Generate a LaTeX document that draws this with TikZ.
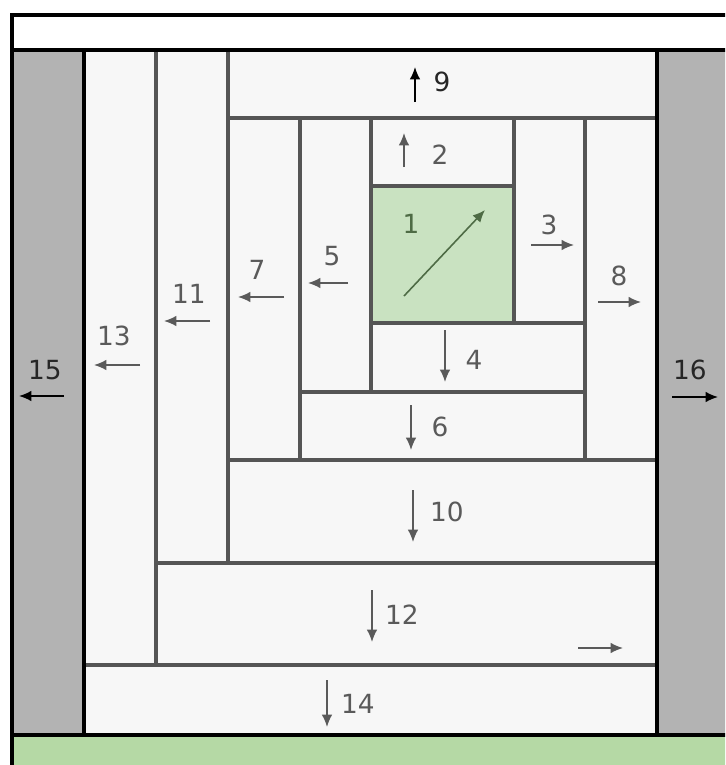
\documentclass[tikz,border=0pt]{standalone}
\usepackage{fontspec}
\setmainfont{DejaVu Sans}
\usetikzlibrary{arrows.meta}
\definecolor{strip}{HTML}{F7F7F7}
\definecolor{edge}{HTML}{555555}
\definecolor{side}{HTML}{B3B3B3}
\definecolor{centre}{HTML}{C9E2C1}
\definecolor{base}{HTML}{B5D9A5}
\definecolor{txt}{HTML}{5A5A5A}
\definecolor{leaf}{HTML}{4E6B45}

\begin{document}
\begin{tikzpicture}[x=0.02cm,y=-0.02cm,
  piece/.style={fill=strip,draw=edge,line width=2.1pt},
  seam/.style={draw=black,line width=2.6pt},
  num/.style={text=txt,font=\fontsize{15}{15}\selectfont,inner sep=0pt},
  dir/.style={-{Latex[length=7pt,width=6pt]},draw=txt,line width=0.9pt}]
\useasboundingbox (0,0) rectangle (725,765);
\clip (0,0) rectangle (725,765);

% outer parts
\fill[white] (12,15) rectangle (740,50);
\fill[side]  (12,50) rectangle (84,735);
\fill[side]  (657,50) rectangle (740,735);
\fill[base]  (12,735) rectangle (740,780);

% strips, from the outside in
\draw[piece] (84,665)  rectangle (657,735);  % 14
\draw[piece] (84,50)   rectangle (156,665);  % 13
\draw[piece] (156,563) rectangle (657,665);  % 12
\draw[piece] (156,50)  rectangle (228,563);  % 11
\draw[piece] (228,460) rectangle (657,563);  % 10
\draw[piece] (228,50)  rectangle (657,118);  % 9
\draw[piece] (585,118) rectangle (657,460);  % 8
\draw[piece] (228,118) rectangle (300,460);  % 7
\draw[piece] (300,392) rectangle (585,460);  % 6
\draw[piece] (300,118) rectangle (371,392);  % 5
\draw[piece] (371,323) rectangle (585,392);  % 4
\draw[piece] (514,118) rectangle (585,323);  % 3
\draw[piece] (371,118) rectangle (514,186);  % 2
\draw[piece,fill=centre] (371,186) rectangle (514,323); % 1

% black seams
\draw[seam] (12,780) -- (12,15) -- (740,15);
\draw[seam] (12,50) -- (740,50);
\draw[seam] (12,735) -- (740,735);
\draw[seam] (84,50) -- (84,735);
\draw[seam] (657,50) -- (657,735);

% numbers
\node[num,text=leaf] (n1) at (411,224) {1};
\node[num] (n2)  at (440,155) {2};
\node[num] (n3)  at (549,225) {3};
\node[num] (n4)  at (474,360) {4};
\node[num] (n5)  at (332,256) {5};
\node[num] (n6)  at (440,427) {6};
\node[num] (n7)  at (257,270) {7};
\node[num] (n8)  at (619,276) {8};
\node[num,text=black!85] (n9) at (442,82) {9};
\node[num] (n10) at (447,512) {10};
\node[num] (n11) at (189,294) {11};
\node[num] (n12) at (402,615) {12};
\node[num] (n13) at (114,336) {13};
\node[num] (n14) at (358,704) {14};
\node[num,text=black!85] (n15) at (45,370)  {15};
\node[num,text=black!85] (n16) at (690,370) {16};

% sewing directions
\draw[dir,draw=leaf] (404,296) -- (485,210);
\draw[dir] (404,167) -- (404,133);
\draw[dir] (531,245) -- (574,245);
\draw[dir] (445,330) -- (445,382);
\draw[dir] (348,283) -- (308,283);
\draw[dir] (411,405) -- (411,450);
\draw[dir] (284,297) -- (238,297);
\draw[dir] (598,302) -- (641,302);
\draw[dir,draw=black] (415,102) -- (415,67);
\draw[dir] (413,490) -- (413,542);
\draw[dir] (210,321) -- (164,321);
\draw[dir] (372,590) -- (372,642);
\draw[dir] (578,648) -- (623,648);
\draw[dir] (140,365) -- (94,365);
\draw[dir] (327,680) -- (327,727);
\draw[dir,draw=black] (64,396) -- (19,396);
\draw[dir,draw=black] (672,397) -- (718,397);
\end{tikzpicture}
\end{document}
